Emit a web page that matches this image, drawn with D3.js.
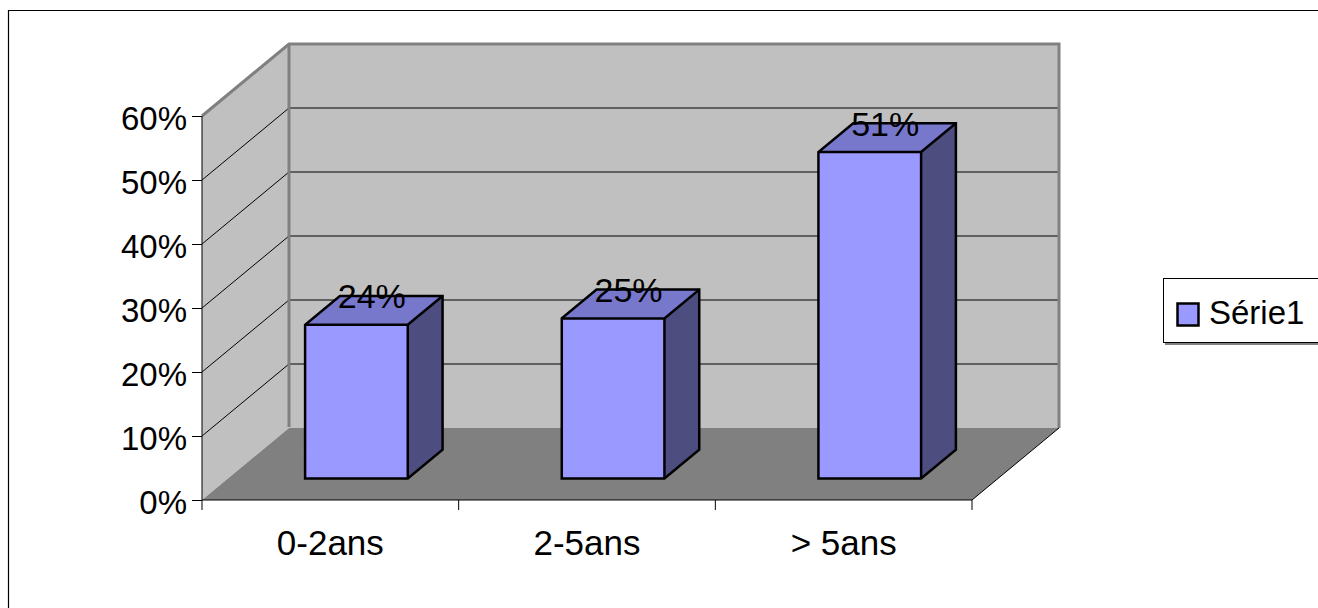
<!doctype html>
<html lang="fr">
  <head>
    <meta charset="UTF-8" />
    <title>Série1</title>
    <script src="https://d3js.org/d3.v7.min.js"></script>
    <style>
      body {
        margin: 0;
        background: #fff;
        overflow: hidden;
      }
      svg {
        display: block;
      }
      svg text {
        font-family: 'Liberation Sans', Arial, sans-serif;
        fill: #000;
      }
    </style>
  </head>
  <body>
    <div id="chart"></div>
    <script>
      // Data
      const categories = ['0-2ans', '2-5ans', '> 5ans'];
      const values = [0.24, 0.25, 0.51];
      const valueLabels = ['24%', '25%', '51%'];
      const yTicks = [0, 0.1, 0.2, 0.3, 0.4, 0.5, 0.6];
      const seriesName = 'Série1';

      const W = 1318;
      const H = 608;

      // front plane of the 3D box
      const plot = { left: 202, right: 972, top: 116, bottom: 500 };
      // depth offset (back plane = front + depth)
      const depth = { dx: 87, dy: 72 };
      const barZ = [0.3, 0.7];

      const svg = d3
        .select('#chart')
        .append('svg')
        .attr('width', W)
        .attr('height', H);

      // outer frame (only top and left show inside the window)
      svg
        .append('path')
        .attr('d', `M8.5,${H}V10.5H${W}`)
        .attr('fill', 'none')
        .attr('stroke', '#000')
        .attr('stroke-width', 1.2);

      const xScale = d3
        .scaleBand()
        .domain(categories)
        .range([plot.left, plot.right])
        .paddingInner(0.6)
        .paddingOuter(0.3);

      const xTickScale = d3
        .scaleBand()
        .domain(categories)
        .range([plot.left, plot.right]);

      const yScale = d3
        .scaleLinear()
        .domain([0, 0.6])
        .range([plot.bottom, plot.top]);

      const proj = (x, y, z) => [x + z * depth.dx, y - z * depth.dy];
      const poly = (pts) => pts.map((p) => p.join(',')).join(' ');

      const y0 = yScale(0);
      const yMax = yScale(0.6);

      // left wall
      svg
        .append('polygon')
        .attr(
          'points',
          poly([
            proj(plot.left, yMax, 0),
            proj(plot.left, yMax, 1),
            proj(plot.left, y0, 1),
            proj(plot.left, y0, 0),
          ]),
        )
        .attr('fill', '#c0c0c0');

      // back wall
      svg
        .append('polygon')
        .attr(
          'points',
          poly([
            proj(plot.left, yMax, 1),
            proj(plot.right, yMax, 1),
            proj(plot.right, y0, 1),
            proj(plot.left, y0, 1),
          ]),
        )
        .attr('fill', '#c0c0c0');

      // floor
      svg
        .append('polygon')
        .attr(
          'points',
          poly([
            proj(plot.left, y0, 0),
            proj(plot.left, y0, 1),
            proj(plot.right, y0, 1),
            proj(plot.right, y0, 0),
          ]),
        )
        .attr('fill', '#808080');

      // gridlines
      const grid = svg.append('g');
      yTicks
        .filter((t) => t > 0 && t < 0.6)
        .forEach((t) => {
          const y = yScale(t);
          grid
            .append('polyline')
            .attr(
              'points',
              poly([
                proj(plot.left, y, 0),
                proj(plot.left, y, 1),
                proj(plot.right, y, 1),
              ]),
            )
            .attr('fill', 'none')
            .attr('stroke', '#000')
            .attr('stroke-width', 1);
        });

      // wall edges
      svg
        .append('polyline')
        .attr(
          'points',
          poly([
            proj(plot.left, yMax, 0),
            proj(plot.left, yMax, 1),
            proj(plot.right, yMax, 1),
            proj(plot.right, y0, 1),
          ]),
        )
        .attr('fill', 'none')
        .attr('stroke', '#808080')
        .attr('stroke-width', 3);
      svg
        .append('line')
        .attr('x1', proj(plot.left, yMax, 1)[0])
        .attr('y1', proj(plot.left, yMax, 1)[1])
        .attr('x2', proj(plot.left, y0, 1)[0])
        .attr('y2', proj(plot.left, y0, 1)[1] - 1)
        .attr('stroke', '#808080')
        .attr('stroke-width', 3);

      // floor right edge
      svg
        .append('line')
        .attr('x1', proj(plot.right, y0, 0)[0])
        .attr('y1', proj(plot.right, y0, 0)[1])
        .attr('x2', proj(plot.right, y0, 1)[0])
        .attr('y2', proj(plot.right, y0, 1)[1])
        .attr('stroke', '#000')
        .attr('stroke-width', 1);

      // bars
      const bars = svg.append('g');
      categories.forEach((c, i) => {
        const xl = xScale(c);
        const xr = xl + xScale.bandwidth();
        const yt = yScale(values[i]);
        const [za, zb] = barZ;
        const g = bars.append('g');
        // side face
        g.append('polygon')
          .attr(
            'points',
            poly([
              proj(xr, yt, za),
              proj(xr, yt, zb),
              proj(xr, y0, zb),
              proj(xr, y0, za),
            ]),
          )
          .attr('fill', '#4d4d80');
        // top face
        g.append('polygon')
          .attr(
            'points',
            poly([
              proj(xl, yt, za),
              proj(xl, yt, zb),
              proj(xr, yt, zb),
              proj(xr, yt, za),
            ]),
          )
          .attr('fill', '#7777cc');
        // front face
        g.append('polygon')
          .attr(
            'points',
            poly([
              proj(xl, yt, za),
              proj(xr, yt, za),
              proj(xr, y0, za),
              proj(xl, y0, za),
            ]),
          )
          .attr('fill', '#9999ff');
        // outline
        g.append('polygon')
          .attr(
            'points',
            poly([
              proj(xl, y0, za),
              proj(xl, yt, za),
              proj(xl, yt, zb),
              proj(xr, yt, zb),
              proj(xr, y0, zb),
              proj(xr, y0, za),
            ]),
          )
          .attr('fill', 'none')
          .attr('stroke', '#000')
          .attr('stroke-width', 2.5)
          .attr('stroke-linejoin', 'miter');
        g.append('polyline')
          .attr(
            'points',
            poly([
              proj(xl, yt, za),
              proj(xr, yt, za),
              proj(xr, yt, zb),
            ]),
          )
          .attr('fill', 'none')
          .attr('stroke', '#000')
          .attr('stroke-width', 2.5);
        g.append('line')
          .attr('x1', proj(xr, yt, za)[0])
          .attr('y1', proj(xr, yt, za)[1])
          .attr('x2', proj(xr, y0, za)[0])
          .attr('y2', proj(xr, y0, za)[1])
          .attr('stroke', '#000')
          .attr('stroke-width', 2.5);

        // value label
        const mid = proj((xl + xr) / 2, yt, (za + zb) / 2);
        g.append('text')
          .attr('x', mid[0] - 2)
          .attr('y', mid[1] - 2)
          .attr('text-anchor', 'middle')
          .style('font-size', '34px')
          .text(valueLabels[i]);
      });

      // y axis
      const yAxis = svg
        .append('g')
        .attr('transform', `translate(${plot.left},0)`)
        .call(
          d3
            .axisLeft(yScale)
            .tickValues(yTicks)
            .tickFormat(d3.format('.0%'))
            .tickSize(10)
            .tickPadding(5),
        );
      yAxis.select('.domain').attr('stroke', '#000').attr('d', `M0,${yMax}V${y0}`);
      yAxis.selectAll('.tick line').attr('stroke', '#000');
      yAxis
        .selectAll('.tick text')
        .attr('dy', '0.42em')
        .style('font-size', '33px')
        .style('font-family', "'Liberation Sans', Arial, sans-serif");

      // x axis
      const xAxis = svg
        .append('g')
        .attr('transform', `translate(0,${y0})`)
        .call(d3.axisBottom(xTickScale).tickSize(0).tickPadding(30));
      xAxis.select('.domain').attr('stroke', '#000').attr('d', `M${plot.left},0H${plot.right}`);
      xAxis
        .selectAll('.tick text')
        .style('font-size', '35px')
        .style('font-family', "'Liberation Sans', Arial, sans-serif");
      // category boundary ticks
      const bounds = categories.map((c) => xTickScale(c)).concat([plot.right]);
      xAxis
        .selectAll('.bound')
        .data(bounds)
        .enter()
        .append('line')
        .attr('x1', (d) => d)
        .attr('x2', (d) => d)
        .attr('y1', 0)
        .attr('y2', 10)
        .attr('stroke', '#000');

      // legend
      const legend = svg.append('g');
      legend
        .append('rect')
        .attr('x', 1165)
        .attr('y', 281)
        .attr('width', 200)
        .attr('height', 64)
        .attr('fill', '#808080');
      legend
        .append('rect')
        .attr('x', 1163.5)
        .attr('y', 278.5)
        .attr('width', 200)
        .attr('height', 64)
        .attr('fill', '#fff')
        .attr('stroke', '#000')
        .attr('stroke-width', 1);
      legend
        .append('rect')
        .attr('x', 1177.5)
        .attr('y', 303.5)
        .attr('width', 21)
        .attr('height', 22)
        .attr('fill', '#9999ff')
        .attr('stroke', '#000')
        .attr('stroke-width', 2.5);
      legend
        .append('text')
        .attr('x', 1209)
        .attr('y', 324)
        .style('font-size', '33px')
        .text(seriesName);
    </script>
  </body>
</html>
